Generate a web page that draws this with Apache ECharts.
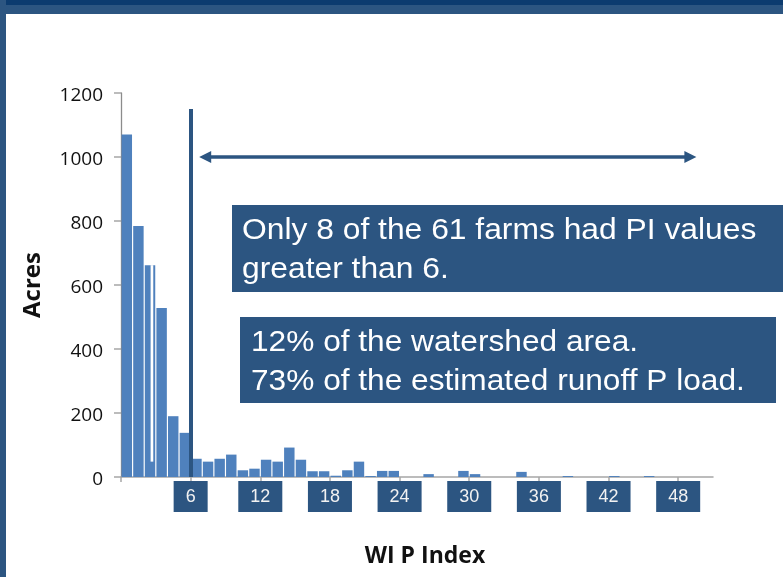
<!DOCTYPE html>
<html><head><meta charset="utf-8">
<script src="https://cdn.jsdelivr.net/npm/echarts@6/dist/echarts.min.js"></script>
<style>html,body{margin:0;padding:0;background:#fff}#c{width:783px;height:577px}</style>
</head><body><div id="c"></div>
<script>
// WI P Index categories (1..51)
const categories = ['1','2','3','4','5','6','7','8','9','10','11','12','13','14','15','16','17','18','19','20','21','22','23','24','25','26','27','28','29','30','31','32','33','34','35','36','37','38','39','40','41','42','43','44','45','46','47','48','49','50','51'];
// Acres per index bin
const acres = [1070,784,662,528,190,138,57,48,57,70,21,26,54,48,92,54,18,18,4,21,48,3,19,19,0,0,9,0,0,19,9,0,0,0,16,0,0,0,3,0,0,0,3,0,0,3,0,0,0,0,0];
// white gap seen inside the third bar: [categoryIndex, from, to]
const gapStrip = [[2, 48, 662]];
const tickValues = [0,6,12,18,24,30,36,42,48];
const tickLabels = [6,12,18,24,30,36,42,48];
const splitAt = 6, splitTop = 1150;
const arrowY = 1000, arrowFrom = 7.25, arrowTo = 49.05;
const note1 = ['Only 8 of the 61 farms had PI values', 'greater than 6.'];
const note2 = ['12% of the watershed area.', '73% of the estimated runoff P load.'];

const navy = '#2c5581';
const chart = echarts.init(document.getElementById('c'), null, {renderer:'canvas'});
const noteFont = '30px "Liberation Sans"';
const option = {
  backgroundColor: '#ffffff',
  animation: false,
  grid: {left: 121, right: 70, top: 93, bottom: 100, containLabel: false},
  xAxis: [{
    type: 'category', data: categories, boundaryGap: true,
    axisLine: {show: true, lineStyle: {color: '#a6a6a6', width: 1.5}},
    axisTick: {show: false}, axisLabel: {show: false}, splitLine: {show: false}
  }, {
    type: 'value', min: 0, max: 51, interval: 6, position: 'bottom',
    axisLine: {show: false}, splitLine: {show: false},
    axisTick: {show: true, length: 5, customValues: tickValues, lineStyle: {color: '#a6a6a6', width: 1.5}},
    axisLabel: {
      show: true, customValues: tickLabels, margin: 4,
      fontFamily: 'Liberation Sans', fontSize: 18, color: '#f2f2f2',
      backgroundColor: navy, padding: [7, 12, 6, 12], lineHeight: 18
    }
  }],
  yAxis: {
    type: 'value', min: 0, max: 1200, interval: 200,
    axisLine: {show: true, lineStyle: {color: '#8c8c8c', width: 1.3}},
    axisTick: {show: true, length: 7, lineStyle: {color: '#a6a6a6', width: 1.5}},
    splitLine: {show: false},
    axisLabel: {
      margin: 18, fontFamily: 'Open Sans', fontSize: 19, color: '#111',
      formatter: v => '{n|' + v + '}',
      rich: {n: {fontFamily: 'Open Sans', fontSize: 19, color: '#111', padding: [6, 0, 0, 0]}}
    }
  },
  series: [{
    type: 'bar', xAxisIndex: 0, data: acres, barWidth: '90%',
    itemStyle: {color: '#4f81bd'}, z: 2
  }, {
    type: 'custom', xAxisIndex: 0, data: gapStrip, z: 3,
    renderItem: function (params, api) {
      const lo = api.coord([api.value(0), api.value(1)]);
      const hi = api.coord([api.value(0), api.value(2)]);
      const bw = api.size([1, 0])[0];
      return {type: 'rect', shape: {x: lo[0] + bw * 0.05, y: hi[1], width: bw * 0.23, height: lo[1] - hi[1]}, style: {fill: '#ffffff'}};
    }
  }, {
    type: 'line', xAxisIndex: 1, data: [], z: 5,
    markLine: {
      silent: true, animation: false,
      label: {show: false},
      data: [
        [{coord: [splitAt, 0], symbol: 'none', lineStyle: {color: navy, width: 4, type: 'solid'}},
         {coord: [splitAt, splitTop], symbol: 'none'}],
        [{coord: [arrowFrom, arrowY], symbol: 'triangle', symbolSize: [12, 12], lineStyle: {color: navy, width: 3.5, type: 'solid'}},
         {coord: [arrowTo, arrowY], symbol: 'triangle', symbolSize: [12, 12]}]
      ]
    }
  }],
  graphic: [
    {type: 'rect', left: 0, top: 0, shape: {width: 783, height: 5}, style: {fill: '#0c3b6f'}, z: 10},
    {type: 'rect', left: 0, top: 5, shape: {width: 783, height: 9}, style: {fill: navy}, z: 10},
    {type: 'rect', left: 0, top: 0, shape: {width: 6, height: 577}, style: {fill: navy}, z: 10},
    {type: 'rect', left: 232, top: 205, shape: {width: 551, height: 87}, style: {fill: navy}, z: 20},
    {type: 'text', x: 242, y: 231, scaleX: 1.06, style: {text: note1[0], fill: '#fff', font: noteFont, verticalAlign: 'middle'}, z: 21},
    {type: 'text', x: 242, y: 270, scaleX: 1.06, style: {text: note1[1], fill: '#fff', font: noteFont, verticalAlign: 'middle'}, z: 21},
    {type: 'rect', left: 240, top: 317, shape: {width: 536, height: 86}, style: {fill: navy}, z: 20},
    {type: 'text', x: 251, y: 343, scaleX: 1.055, style: {text: note2[0], fill: '#fff', font: noteFont, verticalAlign: 'middle'}, z: 21},
    {type: 'text', x: 251, y: 382, scaleX: 1.055, style: {text: note2[1], fill: '#fff', font: noteFont, verticalAlign: 'middle'}, z: 21},
    {type: 'text', x: 425, y: 556, style: {text: 'WI P Index', fill: '#111', font: 'bold 23px "Open Sans"', align: 'center', verticalAlign: 'middle'}, z: 21},
    {type: 'text', x: 33, y: 285, rotation: Math.PI / 2, style: {text: 'Acres', fill: '#111', font: 'bold 24px "Open Sans"', align: 'center', verticalAlign: 'middle'}, z: 21}
  ]
};
chart.setOption(option);
</script>
</body></html>
